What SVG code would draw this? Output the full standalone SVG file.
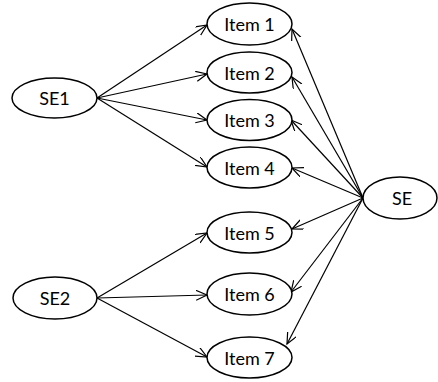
<svg xmlns="http://www.w3.org/2000/svg" width="438" height="382" viewBox="0 0 438 382">
<style>
.node ellipse{fill:#fff;stroke:#000;stroke-width:1.5}
.node text{font-family:Lato,"Liberation Sans",sans-serif;font-size:18px;fill:#000;text-anchor:middle;dominant-baseline:central}
#edges line{stroke:#000;stroke-width:1.2;marker-end:url(#arr)}
</style>
<defs>
<marker id="arr" markerUnits="userSpaceOnUse" markerWidth="14" markerHeight="12" refX="11" refY="5" orient="auto">
<path d="M0,0 L11,5 L0,10" fill="none" stroke="#000" stroke-width="1.2"/>
</marker>
</defs>
<rect width="438" height="382" fill="#fff"/>
<g id="edges">
<line x1="97" y1="98" x2="207" y2="25"/>
<line x1="97" y1="98" x2="207" y2="74"/>
<line x1="97" y1="98" x2="207" y2="120"/>
<line x1="97" y1="98" x2="207" y2="167"/>
<line x1="97" y1="298" x2="207" y2="233"/>
<line x1="97" y1="298" x2="207" y2="295"/>
<line x1="97" y1="298" x2="207" y2="357"/>
<line x1="363" y1="198" x2="292" y2="29"/>
<line x1="363" y1="198" x2="292" y2="77"/>
<line x1="363" y1="198" x2="291" y2="120"/>
<line x1="363" y1="198" x2="292" y2="168"/>
<line x1="363" y1="198" x2="292" y2="229"/>
<line x1="363" y1="198" x2="291" y2="292"/>
<line x1="363" y1="198" x2="287" y2="344"/>
</g>
<g id="SE1" class="node"><ellipse cx="54.5" cy="98" rx="42.5" ry="20"/><text x="54.5" y="98">SE1</text></g>
<g id="SE2" class="node"><ellipse cx="55" cy="298" rx="42" ry="21"/><text x="55" y="298">SE2</text></g>
<g id="SE" class="node"><ellipse cx="400" cy="198" rx="37" ry="21"/><text x="402" y="198">SE</text></g>
<g id="item1" class="node"><ellipse cx="249.5" cy="24" rx="42.5" ry="21"/><text x="249.5" y="24">Item 1</text></g>
<g id="item2" class="node"><ellipse cx="249.5" cy="72.5" rx="42.5" ry="20.5"/><text x="249.5" y="72.5">Item 2</text></g>
<g id="item3" class="node"><ellipse cx="249.5" cy="120" rx="42.5" ry="20.5"/><text x="249.5" y="120">Item 3</text></g>
<g id="item4" class="node"><ellipse cx="249.5" cy="167.5" rx="42.5" ry="20.5"/><text x="249.5" y="167.5">Item 4</text></g>
<g id="item5" class="node"><ellipse cx="249.5" cy="232.5" rx="42.5" ry="20.5"/><text x="249.5" y="232.5">Item 5</text></g>
<g id="item6" class="node"><ellipse cx="249.5" cy="294" rx="42.5" ry="21"/><text x="249.5" y="294">Item 6</text></g>
<g id="item7" class="node"><ellipse cx="249.5" cy="357.5" rx="42.5" ry="20.5"/><text x="249.5" y="357.5">Item 7</text></g>
</svg>
